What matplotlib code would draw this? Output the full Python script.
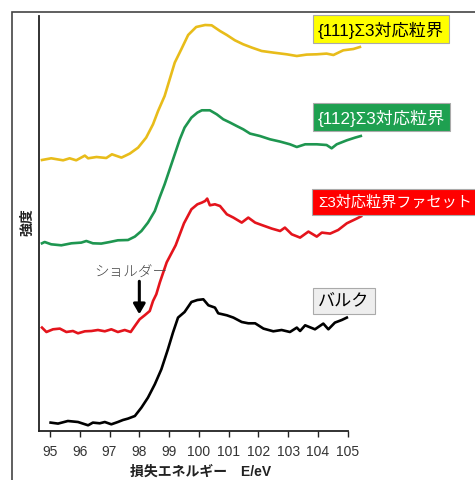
import matplotlib
matplotlib.use("Agg")
import matplotlib.pyplot as plt
from matplotlib.patches import Rectangle

plt.rcParams['font.family'] = ['Liberation Sans', 'Noto Sans CJK JP']

# Energy loss (eV) and intensity (arb. units, curves stacked with offsets)
e_111 = [94.73, 95.04, 95.44, 95.66, 95.88, 96.17, 96.28, 96.56, 96.89, 97.08,
         97.40, 97.68, 97.96, 98.23, 98.46, 98.63, 98.85, 99.02, 99.19, 99.41,
         99.64, 99.91, 100.21, 100.43, 100.71, 100.94, 101.21, 101.49, 101.78,
         102.11, 102.50, 102.95, 103.29, 103.62, 103.96, 104.29, 104.52, 104.85,
         105.19, 105.41]
i_111 = [271.3, 273.0, 271.0, 273.0, 271.0, 275.7, 273.0, 274.3, 273.3, 277.0,
         273.7, 277.7, 283.7, 293.7, 307.0, 320.3, 335.3, 352.0, 368.7, 382.0,
         396.3, 404.3, 406.3, 406.0, 400.3, 396.3, 391.0, 387.0, 383.7,
         380.3, 378.7, 377.0, 375.3, 376.7, 377.0, 377.7, 376.3, 381.0,
         382.3, 384.3]

e_112 = [94.73, 94.82, 95.04, 95.38, 95.72, 96.05, 96.22, 96.44, 96.72, 97.01,
         97.28, 97.62, 97.85, 98.07, 98.29, 98.52, 98.68, 98.85, 99.02, 99.19,
         99.36, 99.52, 99.75, 99.95, 100.10, 100.37, 100.60, 100.82, 101.05,
         101.27, 101.49, 101.72, 102.05, 102.39, 102.73, 103.06, 103.29, 103.57,
         103.96, 104.29, 104.46, 104.63, 104.97, 105.25, 105.44]
i_112 = [188.0, 189.3, 187.0, 186.0, 188.0, 188.7, 190.3, 188.0, 187.7, 189.3,
         191.0, 191.3, 194.7, 200.3, 208.7, 220.3, 233.7, 247.0, 262.0, 277.0,
         292.0, 303.7, 313.7, 318.7, 321.0, 321.0, 317.0, 312.0, 308.7,
         305.3, 302.0, 297.7, 295.3, 292.0, 289.7, 287.0, 284.3, 287.0,
         287.0, 286.3, 283.0, 287.0, 291.0, 293.7, 295.3]

e_facet = [94.73, 94.88, 95.10, 95.33, 95.55, 95.77, 95.94, 96.17, 96.39, 96.61,
           96.84, 97.06, 97.28, 97.51, 97.71, 97.85, 98.01, 98.18, 98.35, 98.46,
           98.57, 98.69, 98.92, 99.22, 99.50, 99.75, 99.95, 100.10, 100.21,
           100.28, 100.37, 100.54, 100.71, 100.94, 101.16, 101.44, 101.66,
           101.89, 102.11, 102.45, 102.73, 102.89, 103.12, 103.40, 103.68,
           103.96, 104.13, 104.41, 104.68, 104.97, 105.30, 105.45]
i_facet = [103.7, 99.3, 102.0, 102.7, 99.3, 100.3, 98.0, 100.0, 100.3, 101.3,
           100.0, 102.0, 99.3, 101.3, 99.3, 105.3, 112.0, 116.0, 120.3, 130.3,
           137.0, 149.0, 169.0, 186.0, 208.0, 222.0, 227.0, 228.7, 230.3,
           232.7, 226.0, 227.0, 225.3, 217.0, 213.7, 208.7, 213.7,
           208.7, 206.3, 202.7, 200.3, 203.7, 197.0, 193.7, 199.7,
           194.7, 198.7, 197.7, 201.3, 208.0, 212.7, 215.0]

e_bulk = [95.02, 95.27, 95.60, 95.94, 96.28, 96.44, 96.67, 96.84, 97.06, 97.28,
          97.45, 97.62, 97.85, 98.07, 98.29, 98.52, 98.74, 98.96, 99.13, 99.30,
          99.52, 99.75, 99.95, 100.15, 100.32, 100.54, 100.65, 100.94, 101.16,
          101.44, 101.66, 101.89, 102.17, 102.50, 102.78, 103.06, 103.29, 103.40,
          103.57, 103.90, 104.18, 104.35, 104.57, 104.80, 104.97]
i_bulk = [8.7, 7.7, 10.3, 9.3, 6.0, 8.7, 8.0, 9.3, 7.0, 9.3,
          11.3, 12.7, 15.3, 23.7, 33.7, 47.0, 62.0, 82.0, 98.7, 113.7,
          119.3, 129.3, 131.3, 132.0, 126.0, 123.7, 118.0, 116.0, 113.7,
          109.3, 108.0, 108.0, 102.7, 100.0, 101.3, 99.3, 103.7, 100.3,
          106.0, 102.0, 107.7, 102.0, 108.7, 111.3, 113.7]

x_ticks = [95, 96, 97, 98, 99, 100, 101, 102, 103, 104, 105]

labels = ["{111}Σ3対応粒界", "{112}Σ3対応粒界", "Σ3対応粒界ファセット", "バルク"]
line_colors = ["#e8bc1a", "#1e9650", "#e4141c", "#000000"]
box_colors = ["#ffff00", "#1ea050", "#ff0000", "#eeeeee"]
text_colors = ["#000000", "#ffffff", "#ffffff", "#000000"]
label_sizes = [12.3, 12.3, 10.9, 12.3]
label_pads = [0.3, 0.3, 0.4, 0.3]

shoulder_energy = 98.0

W, H = 475, 481
fig = plt.figure(figsize=(W / 100, H / 100), dpi=100)
ax = fig.add_axes([38.7 / W, 1 - 432.3 / H, (362.6 - 38.7) / W, (432.3 - 17.3) / H])

series = [(e_111, i_111), (e_112, i_112), (e_facet, i_facet), (e_bulk, i_bulk)]
for (e, i), c in zip(series, line_colors):
    ax.plot(e, i, color=c, lw=1.9, solid_joinstyle='round', clip_on=False)

ax.set_xlim(94.62, 105.5)
ax.set_ylim(0, 415)
ax.spines['top'].set_visible(False)
ax.spines['right'].set_visible(False)
ax.spines['bottom'].set_bounds(94.62, 105)
for s in ('left', 'bottom'):
    ax.spines[s].set_linewidth(1.3)
    ax.spines[s].set_color('#222222')
ax.set_yticks([])
ax.set_xticks(x_ticks)
ax.tick_params(axis='x', direction='out', length=4, width=1.0, colors='#222222',
               labelsize=10, pad=5, labelcolor='#333333')

ax.set_xlabel("損失エネルギー\u3000E/eV", fontsize=10, fontweight='bold', labelpad=4,
              color='#222222')
fig.text(27 / W, 1 - 222 / H, "強度", rotation=90, fontsize=10, fontweight='bold',
         ha='center', va='center', color='#222222')

# Shoulder annotation with arrow
ax.annotate("", xy=(shoulder_energy, 117), xytext=(shoulder_energy, 150),
            arrowprops=dict(arrowstyle='-|>,head_length=0.6,head_width=0.35',
                            color='black', lw=2.2, shrinkA=0, shrinkB=0))
ax.text(97.73, 159, "ショルダー", fontsize=10.5, color='#444444',
        ha='center', va='center', fontweight='light')

# Labelled boxes for each spectrum
box_centers = [30, 118, 203, 302]
for lab, bc, tc, yc, fs, pd in zip(labels, box_colors, text_colors, box_centers,
                                   label_sizes, label_pads):
    fig.text(318 / W, 1 - yc / H, lab, fontsize=fs, color=tc, ha='left', va='center',
             bbox=dict(boxstyle=f'square,pad={pd}', facecolor=bc, edgecolor='#aaaaaa',
                       linewidth=0.8))

# Outer frame
fig.add_artist(Rectangle((12 / W, -0.1), 2, 1 - 12.7 / H + 0.1, transform=fig.transFigure,
                         fill=False, edgecolor='#444444', lw=1.2))

fig.savefig("out.png", dpi=100)
